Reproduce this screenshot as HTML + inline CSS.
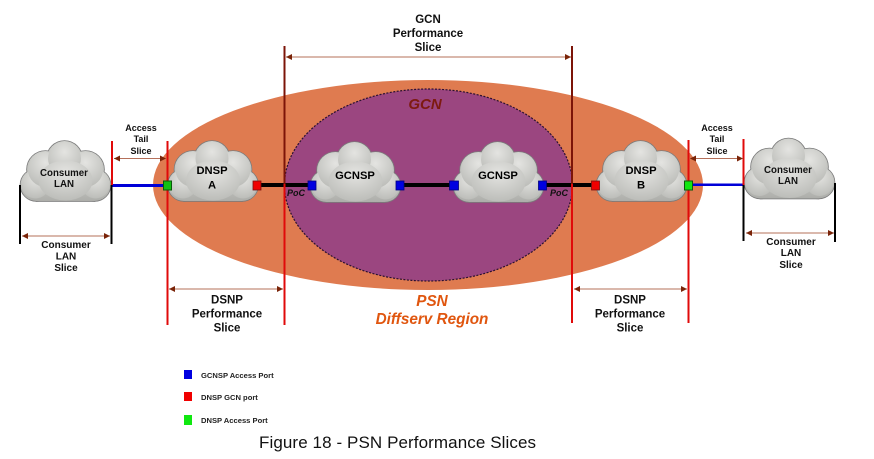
<!DOCTYPE html>
<html><head><meta charset="utf-8"><style>
html,body{margin:0;padding:0;background:#fff;width:874px;height:459px;overflow:hidden}
svg{display:block}
text{font-family:"Liberation Sans",sans-serif}
.l{font-size:11.5px;font-weight:bold;text-anchor:middle;fill:#111}
.s{font-size:9px;font-weight:bold;text-anchor:middle;fill:#111}
.d{font-size:10px;font-weight:bold;text-anchor:middle;fill:#111}
.c{font-size:9.700px;font-weight:bold;text-anchor:middle;fill:#111}
.n{font-size:11.200px;font-weight:bold;text-anchor:middle;fill:#000}
.k{font-size:7.600px;font-weight:bold;fill:#222}
.p{font-size:9px;font-weight:bold;font-style:italic;text-anchor:middle;fill:#111}
</style></head><body>
<svg width="874" height="459" viewBox="0 0 874 459" xmlns="http://www.w3.org/2000/svg">
<defs>
<radialGradient id="g" cx="50%" cy="30%" r="70%"><stop offset="0" stop-color="#e4e4e1"/><stop offset="1" stop-color="#bcbdb9"/></radialGradient>
<linearGradient id="b" x1="0" y1="0" x2="0" y2="1"><stop offset="0" stop-color="#d2d3cf"/><stop offset="1" stop-color="#adaeaa"/></linearGradient>
<g id="sh">
<circle cx="25" cy="29" r="18.500"/><circle cx="44" cy="18" r="17.500"/><circle cx="65" cy="29" r="18.500"/>
<circle cx="16" cy="44.500" r="16"/><circle cx="74" cy="44.500" r="16"/><rect x="16" y="32" width="58" height="28.500"/>
</g>
<symbol id="cloud" viewBox="-1 -1 92 63" width="92" height="63" overflow="visible">
<use href="#sh" fill="#7b7b7b" stroke="#7b7b7b" stroke-width="1.600"/>
<use href="#sh" fill="url(#b)"/>
<circle cx="15" cy="44" r="14" fill="url(#g)"/><circle cx="75" cy="44" r="14" fill="url(#g)"/>
<circle cx="25" cy="29" r="17.500" fill="url(#g)"/><circle cx="65" cy="29" r="17.500" fill="url(#g)"/>
<circle cx="44" cy="18" r="16.500" fill="url(#g)"/>
<ellipse cx="45" cy="40" rx="27" ry="20" fill="url(#g)"/>
</symbol>
<marker id="ae" markerWidth="7" markerHeight="6" refX="6" refY="3" orient="auto"><path d="M0 0L6 3L0 6z" fill="#7a2408"/></marker>
<marker id="as" markerWidth="7" markerHeight="6" refX="0" refY="3" orient="auto"><path d="M6 0L0 3L6 6z" fill="#7a2408"/></marker>
</defs>

<ellipse cx="428" cy="185" rx="275" ry="105" fill="#df7b50"/>
<ellipse cx="428.500" cy="185" rx="144" ry="96" fill="#9b4680" stroke="#2a1030" stroke-width="1.200" stroke-dasharray="2 1.500"/>
<text x="425" y="109" font-size="15" font-weight="bold" font-style="italic" text-anchor="middle" fill="#7d1a10">GCN</text>

<!-- links -->
<rect x="112" y="184" width="56" height="3" fill="#0000d8"/>
<rect x="690" y="183.500" width="54" height="2.500" fill="#0000d8"/>
<rect x="258" y="183" width="54" height="4" fill="#000"/>
<rect x="400" y="183" width="54" height="4" fill="#000"/>
<rect x="543" y="183" width="53" height="4" fill="#000"/>

<!-- clouds -->
<use href="#cloud" x="19.500" y="139.500"/>
<use href="#cloud" x="167" y="139.500"/>
<use href="#cloud" x="309.500" y="140.500"/>
<use href="#cloud" x="452.500" y="140.500"/>
<use href="#cloud" x="595.500" y="139.500"/>
<use href="#cloud" x="743.500" y="137"/>

<!-- vertical lines -->
<g fill="none" stroke-width="2">
<path d="M284.500 46V184" stroke="#7c1408"/><path d="M284.500 184V325" stroke="#e00a0a"/>
<path d="M572 46V184" stroke="#7c1408"/><path d="M572 184V323" stroke="#e00a0a"/>
<path d="M167.500 141V325" stroke="#e00a0a"/>
<path d="M688.500 140V323" stroke="#e00a0a"/>
<path d="M112 141V185" stroke="#e00a0a"/>
<path d="M743.500 139V185" stroke="#e00a0a"/>
</g>
<g fill="none" stroke="#000" stroke-width="2">
<path d="M20 185V244"/><path d="M111.500 185V244"/>
<path d="M743.500 185V241"/><path d="M835 183V242"/>
</g>

<!-- dimension arrows -->
<g stroke="#b5705a" stroke-width="1" fill="none">
<path d="M286 57H571" marker-start="url(#as)" marker-end="url(#ae)"/>
<path d="M114 158.500H166" marker-start="url(#as)" marker-end="url(#ae)"/>
<path d="M690 158.500H743" marker-start="url(#as)" marker-end="url(#ae)"/>
<path d="M22 236H110" marker-start="url(#as)" marker-end="url(#ae)"/>
<path d="M746 233H834" marker-start="url(#as)" marker-end="url(#ae)"/>
<path d="M169 289H283" marker-start="url(#as)" marker-end="url(#ae)"/>
<path d="M574 289H687" marker-start="url(#as)" marker-end="url(#ae)"/>
</g>

<!-- ports -->
<rect x="163.500" y="181" width="8" height="9" fill="#12c012" stroke="#0a5a0a" stroke-width="1"/>
<rect x="684.500" y="181" width="8" height="9" fill="#10e810" stroke="#0a5a0a" stroke-width="1"/>
<rect x="253" y="181" width="8" height="9" fill="#f00000" stroke="#7a1010" stroke-width="0.800"/>
<rect x="591.500" y="181" width="8" height="9" fill="#f00000" stroke="#7a1010" stroke-width="0.800"/>
<g fill="#0000e0" stroke="#000080" stroke-width="0.800">
<rect x="308" y="181" width="8" height="9"/><rect x="396" y="181" width="8" height="9"/>
<rect x="449.500" y="181" width="9" height="9"/><rect x="538.500" y="181" width="8" height="9"/>
</g>

<!-- labels -->
<text class="l" x="428" y="23">GCN</text><text class="l" x="428" y="37">Performance</text><text class="l" x="428" y="51">Slice</text>
<text class="s" x="141" y="131">Access</text><text class="s" x="141" y="142">Tail</text><text class="s" x="141" y="154">Slice</text>
<text class="s" x="717" y="131">Access</text><text class="s" x="717" y="142">Tail</text><text class="s" x="717" y="154">Slice</text>
<text class="c" x="64" y="176">Consumer</text><text class="c" x="64" y="187">LAN</text>
<text class="c" x="788" y="173">Consumer</text><text class="c" x="788" y="184">LAN</text>
<text class="d" x="66" y="248">Consumer</text><text class="d" x="66" y="259.500">LAN</text><text class="d" x="66" y="271">Slice</text>
<text class="d" x="791" y="245">Consumer</text><text class="d" x="791" y="256">LAN</text><text class="d" x="791" y="268">Slice</text>
<text class="n" x="212" y="174">DNSP</text><text class="n" x="212" y="188.500">A</text>
<text class="n" x="641" y="174">DNSP</text><text class="n" x="641" y="188.500">B</text>
<text class="n" x="355" y="179">GCNSP</text><text class="n" x="498" y="179">GCNSP</text>
<text class="p" x="296" y="196">PoC</text><text class="p" x="559" y="196">PoC</text>
<text class="l" x="227" y="303.500">DSNP</text><text class="l" x="227" y="317.500">Performance</text><text class="l" x="227" y="331.500">Slice</text>
<text class="l" x="630" y="303.500">DSNP</text><text class="l" x="630" y="317.500">Performance</text><text class="l" x="630" y="331.500">Slice</text>
<text x="432" y="306" font-size="15.300" font-weight="bold" font-style="italic" text-anchor="middle" fill="#e0560f">PSN</text>
<text x="432" y="324" font-size="15.300" font-weight="bold" font-style="italic" text-anchor="middle" fill="#e0560f">Diffserv Region</text>

<!-- legend -->
<rect x="184" y="370" width="8" height="9" fill="#0000e0"/>
<rect x="184" y="392" width="8" height="9" fill="#f00000"/>
<rect x="184" y="415" width="8" height="10" fill="#10e810"/>
<text class="k" x="201" y="378">GCNSP Access Port</text>
<text class="k" x="201" y="400">DNSP GCN port</text>
<text class="k" x="201" y="423">DNSP Access Port</text>
<text x="259" y="448" font-size="17" textLength="277" lengthAdjust="spacing" fill="#111">Figure 18 - PSN Performance Slices</text>
</svg>
</body></html>
